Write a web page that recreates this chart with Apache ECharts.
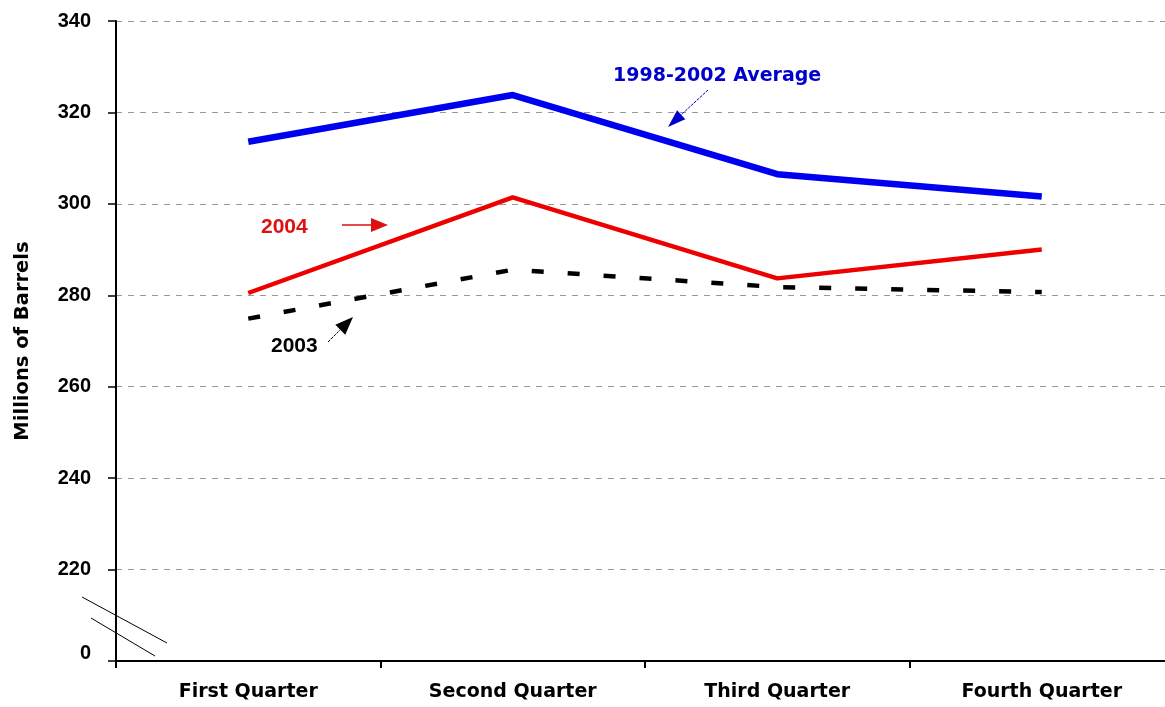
<!DOCTYPE html>
<html><head><meta charset="utf-8">
<script src="https://cdn.jsdelivr.net/npm/echarts@6/dist/echarts.min.js"></script>
<style>html,body{margin:0;padding:0;background:#fff}#c{width:1165px;height:707px}</style>
</head><body><div id="c"></div>
<script>
const categories = ['First Quarter', 'Second Quarter', 'Third Quarter', 'Fourth Quarter'];
const avg9802 = [313.6, 323.8, 306.5, 301.6];
const y2004 = [280.5, 301.4, 283.7, 290.0];
const y2003 = [274.9, 285.6, 281.8, 280.7];
const yTicks = [200, 220, 240, 260, 280, 300, 320, 340];
const yTickLabels = ['0', '220', '240', '260', '280', '300', '320', '340'];

const FONT = '"Liberation Sans", Arial, sans-serif';
const WFONT = '"DejaVu Sans", sans-serif';
const chart = echarts.init(document.getElementById('c'), null, {renderer: 'canvas'});

function arrow(x1, y1, x2, y2, color, lw, head, hwid, dash) {
  const ang = Math.atan2(y2 - y1, x2 - x1);
  const hl = head, hw = hwid;
  const bx = x2 - hl * Math.cos(ang), by = y2 - hl * Math.sin(ang);
  const px = -Math.sin(ang) * hw, py = Math.cos(ang) * hw;
  return [
    {type: 'line', shape: {x1: x1, y1: y1, x2: bx, y2: by}, style: {stroke: color, lineWidth: lw, lineDash: dash || null}, z: 10},
    {type: 'polygon', shape: {points: [[x2, y2], [bx + px, by + py], [bx - px, by - py]]}, style: {fill: color}, z: 10}
  ];
}

const graphics = [].concat(
  [{type: 'text', x: 613, y: 76, style: {text: '1998-2002 Average', font: 'bold 19px ' + WFONT, fill: '#0000CC', textVerticalAlign: 'middle', verticalAlign: 'middle'}, z: 10}],
  arrow(708, 90, 668, 127, '#0000CC', 1, 18, 6, [3, 1]),
  [{type: 'text', x: 261, y: 227, style: {text: '2004', font: 'bold 21px ' + FONT, fill: '#DD1111', textVerticalAlign: 'middle', verticalAlign: 'middle'}, z: 10}],
  arrow(342, 225, 388, 225, '#DD1111', 1.5, 17, 7),
  [{type: 'text', x: 271, y: 346, style: {text: '2003', font: 'bold 21px ' + FONT, fill: '#000', textVerticalAlign: 'middle', verticalAlign: 'middle'}, z: 10}],
  arrow(328, 342, 353, 317, '#000', 1, 18, 7, [3, 1]),
  [
    {type: 'line', shape: {x1: 82, y1: 597, x2: 167, y2: 643}, style: {stroke: '#000', lineWidth: 1}, z: 10},
    {type: 'line', shape: {x1: 91, y1: 618, x2: 155, y2: 656}, style: {stroke: '#000', lineWidth: 1}, z: 10}
  ]
);

chart.setOption({
  animation: false,
  backgroundColor: '#fff',
  grid: {left: 116, top: 21, width: 1058, height: 640, containLabel: false, outerBoundsMode: 'none'},
  xAxis: {
    type: 'category',
    data: categories,
    boundaryGap: true,
    axisLine: {lineStyle: {color: '#000', width: 2}},
    axisTick: {show: true, length: 7, lineStyle: {color: '#000', width: 2}},
    axisLabel: {color: '#000', fontFamily: WFONT, fontWeight: 'bold', fontSize: 19, margin: 22},
    splitLine: {show: false}
  },
  yAxis: {
    type: 'value',
    min: 200, max: 340, interval: 20,
    name: 'Millions of Barrels',
    nameLocation: 'middle',
    nameGap: 83,
    nameTextStyle: {color: '#000', fontFamily: WFONT, fontWeight: 'bold', fontSize: 19.5},
    axisLine: {show: true, lineStyle: {color: '#000', width: 2}},
    axisTick: {show: true, length: 8, lineStyle: {color: '#000', width: 1.5}},
    axisLabel: {
      color: '#000', fontFamily: FONT, fontWeight: 'bold', fontSize: 20, margin: 25,
      formatter: function (v) {
        const i = yTicks.indexOf(v);
        const t = i >= 0 ? yTickLabels[i] : '';
        return v === 200 ? '{z|' + t + '}' : t;
      },
      rich: {z: {color: '#000', fontFamily: FONT, fontWeight: 'bold', fontSize: 20, padding: [0, 0, 16, 0]}}
    },
    splitLine: {show: true, lineStyle: {color: '#999', type: [6, 6], width: 1}}
  },
  series: [
    {name: '1998-2002 Average', type: 'line', data: avg9802, symbol: 'none',
      lineStyle: {color: '#0000F0', width: 6.5}, z: 5},
    {name: '2004', type: 'line', data: y2004, symbol: 'none',
      lineStyle: {color: '#EE0000', width: 4.5}, z: 4},
    {name: '2003', type: 'line', data: y2003, symbol: 'none',
      lineStyle: {color: '#000', width: 4.5, type: [12, 24]}, z: 3}
  ],
  graphic: graphics
});
</script>
</body></html>
